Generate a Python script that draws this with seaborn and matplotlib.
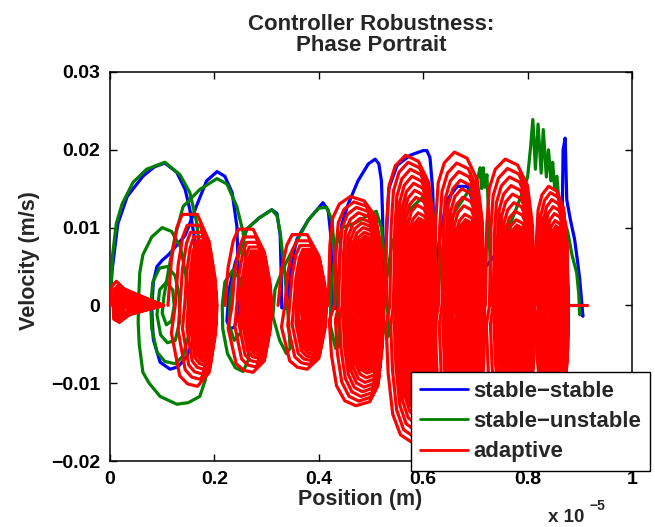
import numpy as np
import pandas as pd
import matplotlib
matplotlib.use("Agg")
import matplotlib.pyplot as plt
from matplotlib.lines import Line2D
import seaborn as sns

# position in units of 1e-5 m, velocity in m/s
blue_path = [
    (0.000, 0.0), (0.004, 0.0045), (0.015, 0.0105), (0.033, 0.0140), (0.063, 0.0166),
    (0.085, 0.0178), (0.105, 0.0183), (0.128, 0.0171), (0.144, 0.0149), (0.153, 0.0123),
    (0.161, 0.0090), (0.165, 0.0050), (0.166, 0.0000), (0.162, -0.0040), (0.147, -0.0066),
    (0.130, -0.0079), (0.115, -0.0082), (0.096, -0.0073), (0.083, -0.0044), (0.080, -0.0005),
    (0.083, 0.0030), (0.090, 0.0050), (0.100, 0.0058), (0.112, 0.0065), (0.125, 0.0075),
    (0.144, 0.0090), (0.167, 0.0130), (0.185, 0.0160), (0.205, 0.0172), (0.220, 0.0166),
    (0.234, 0.0145), (0.243, 0.0102), (0.246, 0.0040), (0.245, -0.0015), (0.238, -0.0028),
    (0.230, -0.0030), (0.224, -0.0020), (0.228, 0.0020), (0.240, 0.0055), (0.262, 0.0098),
    (0.285, 0.0112), (0.310, 0.0123), (0.320, 0.0118), (0.326, 0.0090), (0.328, 0.0040),
    (0.329, -0.0003), (0.336, -0.0004), (0.340, 0.0010), (0.348, 0.0055), (0.358, 0.0085),
    (0.380, 0.0110), (0.408, 0.0132), (0.418, 0.0122), (0.423, 0.0090), (0.425, 0.0040),
    (0.426, -0.0004), (0.433, -0.0004), (0.437, 0.0030), (0.444, 0.0104), (0.455, 0.0128),
    (0.475, 0.0160), (0.495, 0.0182), (0.508, 0.0188), (0.515, 0.0182), (0.520, 0.0160),
    (0.522, 0.0120), (0.524, 0.0050), (0.526, 0.0000), (0.529, 0.0080), (0.534, 0.0150),
    (0.550, 0.0180), (0.575, 0.0193), (0.600, 0.0199), (0.607, 0.0199), (0.613, 0.0190),
    (0.618, 0.0150), (0.621, 0.0090), (0.623, 0.0030), (0.624, 0.0000), (0.630, 0.0080),
    (0.645, 0.0135), (0.665, 0.0153), (0.685, 0.0153), (0.697, 0.0130), (0.702, 0.0080),
    (0.704, 0.0020), (0.705, 0.0000), (0.720, 0.0050), (0.750, 0.0075), (0.780, 0.0076),
    (0.790, 0.0055), (0.795, 0.0020), (0.800, 0.0000), (0.815, 0.0030), (0.840, 0.0040),
    (0.860, 0.0030), (0.866, 0.0100), (0.868, 0.0200), (0.872, 0.0215), (0.875, 0.0136),
    (0.882, 0.0110), (0.890, 0.0085), (0.896, 0.0055), (0.900, 0.0033), (0.906, -0.0014),
    (0.903, -0.0010), (0.900, 0.0000),
]

green_path = [
    (0.000, 0.0), (0.005, 0.0065), (0.012, 0.0105), (0.023, 0.0130), (0.044, 0.0158),
    (0.070, 0.0175), (0.105, 0.0184), (0.134, 0.0168), (0.153, 0.0145), (0.166, 0.0107),
    (0.174, 0.0060), (0.180, 0.0000), (0.184, -0.0050), (0.183, -0.0095), (0.172, -0.0117),
    (0.150, -0.0125), (0.128, -0.0127), (0.096, -0.0117), (0.075, -0.0100), (0.063, -0.0086),
    (0.056, -0.0050), (0.054, -0.0022), (0.055, 0.0010), (0.057, 0.0042), (0.063, 0.0065),
    (0.080, 0.0088), (0.100, 0.0100), (0.118, 0.0095), (0.135, 0.0075), (0.145, 0.0040),
    (0.150, 0.0000), (0.150, -0.0040), (0.140, -0.0065), (0.125, -0.0075), (0.105, -0.0072),
    (0.090, -0.0060), (0.080, -0.0030), (0.078, 0.0000), (0.082, 0.0030), (0.095, 0.0048),
    (0.110, 0.0050), (0.125, 0.0038), (0.133, 0.0010), (0.134, -0.0020), (0.125, -0.0045),
    (0.110, -0.0048), (0.097, -0.0038), (0.090, -0.0012), (0.095, 0.0020), (0.108, 0.0030),
    (0.120, 0.0020), (0.123, 0.0000), (0.118, -0.0020), (0.108, -0.0025), (0.100, -0.0010),
    (0.103, 0.0010), (0.112, 0.0045), (0.125, 0.0090), (0.140, 0.0127), (0.172, 0.0149),
    (0.205, 0.0163), (0.224, 0.0156), (0.243, 0.0127), (0.255, 0.0094), (0.262, 0.0040),
    (0.266, -0.0020), (0.265, -0.0070), (0.255, -0.0085), (0.240, -0.0080), (0.225, -0.0062),
    (0.216, -0.0030), (0.215, 0.0000), (0.220, 0.0030), (0.235, 0.0045), (0.248, 0.0035),
    (0.253, 0.0000), (0.250, -0.0035), (0.238, -0.0045), (0.228, -0.0025), (0.230, 0.0010),
    (0.240, 0.0050), (0.262, 0.0098), (0.285, 0.0112), (0.310, 0.0123), (0.320, 0.0115),
    (0.326, 0.0094), (0.335, 0.0040), (0.342, -0.0020), (0.345, -0.0055), (0.338, -0.0062),
    (0.325, -0.0045), (0.312, -0.0014), (0.316, 0.0020), (0.330, 0.0045), (0.345, 0.0065),
    (0.360, 0.0085), (0.380, 0.0110), (0.400, 0.0125), (0.415, 0.0126), (0.425, 0.0110),
    (0.430, 0.0072), (0.436, 0.0010), (0.440, -0.0053), (0.432, -0.0055), (0.422, -0.0025),
    (0.424, 0.0030), (0.435, 0.0080), (0.445, 0.0100), (0.470, 0.0106), (0.495, 0.0116),
    (0.510, 0.0121), (0.520, 0.0100), (0.527, 0.0050), (0.532, -0.0010), (0.535, -0.0038),
    (0.530, -0.0042), (0.524, -0.0020), (0.527, 0.0020), (0.540, 0.0080), (0.570, 0.0120),
    (0.600, 0.0140), (0.613, 0.0145), (0.620, 0.0115), (0.625, 0.0050), (0.627, 0.0000),
    (0.635, 0.0070), (0.660, 0.0120), (0.690, 0.0150), (0.705, 0.0165), (0.709, 0.0177),
    (0.712, 0.0150), (0.715, 0.0177), (0.718, 0.0152), (0.722, 0.0168), (0.725, 0.0120),
    (0.728, 0.0060), (0.730, 0.0000), (0.740, 0.0060), (0.770, 0.0110), (0.790, 0.0145),
    (0.800, 0.0165), (0.806, 0.0205), (0.810, 0.0239), (0.815, 0.0175), (0.820, 0.0233),
    (0.826, 0.0170), (0.830, 0.0226), (0.836, 0.0165), (0.840, 0.0200), (0.845, 0.0160),
    (0.848, 0.0184), (0.852, 0.0150), (0.856, 0.0166), (0.860, 0.0135), (0.868, 0.0115),
    (0.877, 0.0094), (0.885, 0.0065), (0.894, 0.0042), (0.898, 0.0015), (0.900, -0.0012),
    (0.899, -0.0005),
]

# adaptive run: one spiral per step, each ring given as (left, right, top, bottom)
red_a_rings = [
    (0.000, 0.102, 0.0031, -0.0022), (0.006, 0.102, 0.0027, -0.0019),
    (0.011, 0.102, 0.0024, -0.0017), (0.016, 0.102, 0.0021, -0.0015),
    (0.021, 0.102, 0.0018, -0.0013), (0.026, 0.102, 0.0015, -0.0011),
]
red_b_rings = [
    (0.111, 0.205, 0.0117, -0.0104), (0.125, 0.204, 0.0103, -0.0095),
    (0.134, 0.204, 0.0094, -0.0088), (0.143, 0.203, 0.0088, -0.0082),
    (0.150, 0.203, 0.0083, -0.0077), (0.156, 0.203, 0.0079, -0.0073),
    (0.161, 0.202, 0.0075, -0.0069),
]
red_c_rings = [
    (0.220, 0.310, 0.0098, -0.0086), (0.234, 0.309, 0.0088, -0.0079),
    (0.243, 0.308, 0.0081, -0.0073), (0.250, 0.308, 0.0075, -0.0068),
    (0.256, 0.307, 0.0070, -0.0064), (0.261, 0.307, 0.0066, -0.0060),
]
red_d_rings = [
    (0.322, 0.415, 0.0091, -0.0082), (0.335, 0.414, 0.0083, -0.0076),
    (0.344, 0.413, 0.0077, -0.0071), (0.352, 0.413, 0.0072, -0.0067),
    (0.358, 0.412, 0.0068, -0.0063), (0.363, 0.412, 0.0064, -0.0059),
]
red_e_rings = [
    (0.418, 0.524, 0.0140, -0.0129), (0.430, 0.523, 0.0133, -0.0123),
    (0.438, 0.523, 0.0126, -0.0117), (0.445, 0.522, 0.0119, -0.0111),
    (0.451, 0.522, 0.0112, -0.0105), (0.456, 0.521, 0.0106, -0.0099),
    (0.461, 0.521, 0.0100, -0.0093), (0.465, 0.520, 0.0094, -0.0087),
]
red_f_rings = [
    (0.527, 0.625, 0.0193, -0.0175), (0.536, 0.624, 0.0184, -0.0168),
    (0.543, 0.624, 0.0175, -0.0160), (0.549, 0.623, 0.0166, -0.0152),
    (0.554, 0.623, 0.0157, -0.0144), (0.558, 0.622, 0.0148, -0.0136),
    (0.562, 0.622, 0.0139, -0.0128), (0.566, 0.621, 0.0129, -0.0119),
    (0.570, 0.621, 0.0119, -0.0110),
]
red_g_rings = [
    (0.621, 0.718, 0.0197, -0.0180), (0.629, 0.717, 0.0183, -0.0170),
    (0.636, 0.716, 0.0172, -0.0161), (0.642, 0.715, 0.0161, -0.0152),
    (0.647, 0.714, 0.0150, -0.0142), (0.651, 0.713, 0.0139, -0.0132),
    (0.655, 0.712, 0.0128, -0.0122), (0.659, 0.711, 0.0117, -0.0111),
]
red_h_rings = [
    (0.719, 0.814, 0.0188, -0.0170), (0.727, 0.813, 0.0176, -0.0161),
    (0.734, 0.812, 0.0165, -0.0152), (0.740, 0.811, 0.0154, -0.0143),
    (0.745, 0.810, 0.0143, -0.0134), (0.750, 0.809, 0.0132, -0.0124),
    (0.754, 0.809, 0.0121, -0.0114), (0.758, 0.808, 0.0110, -0.0104),
]
red_i_rings = [
    (0.815, 0.878, 0.0153, -0.0140), (0.821, 0.878, 0.0145, -0.0133),
    (0.826, 0.877, 0.0136, -0.0126), (0.830, 0.877, 0.0127, -0.0118),
    (0.834, 0.877, 0.0118, -0.0110), (0.837, 0.876, 0.0109, -0.0102),
]
red_tail = [(0.860, 0.0), (0.913, 0.0)]

# the tightly wound middle of each spiral shows as solid red
red_cores = [
    ("a", 0.030, 0.102, 0.0013, -0.0010),
    ("b", 0.164, 0.202, 0.0072, -0.0066),
    ("c", 0.264, 0.306, 0.0063, -0.0057),
    ("d", 0.366, 0.411, 0.0061, -0.0056),
    ("e", 0.468, 0.519, 0.0089, -0.0083),
    ("f", 0.573, 0.620, 0.0112, -0.0104),
    ("g", 0.662, 0.710, 0.0110, -0.0104),
    ("h", 0.761, 0.807, 0.0103, -0.0097),
    ("i", 0.840, 0.876, 0.0102, -0.0095),
]

x_ticks = [0, 0.2, 0.4, 0.6, 0.8, 1.0]
x_tick_labels = ["0", "0.2", "0.4", "0.6", "0.8", "1"]
y_ticks = [-0.02, -0.01, 0, 0.01, 0.02, 0.03]
y_tick_labels = ["\u22120.02", "\u22120.01", "0", "0.01", "0.02", "0.03"]
series_labels = ["stable\u2212stable", "stable\u2212unstable", "adaptive"]
series_colors = ["#0000ff", "#008000", "#ff0000"]

# outline of one loop, as fractions of the ring width / height
FAN_U = [0.0, 0.04, 0.12, 0.25, 1.0, 0.30, 0.18, 0.07]
FAN_S = [0.0, 0.80, 1.00, 0.70, 0.0, -0.60, -1.00, -0.80]
RING_U = [0.0, 0.07, 0.18, 0.29, 0.60, 0.84, 0.96, 1.0, 0.97, 0.84, 0.60, 0.40, 0.24, 0.07]
RING_S = [0.0, 0.50, 0.85, 1.0, 1.0, 0.70, 0.30, 0.0, -0.35, -0.83, -1.0, -0.97, -0.87, -0.34]
ARCH_U = [0.0, 0.03, 0.08, 0.20, 0.40, 0.65, 0.85, 0.95, 1.0, 0.98, 0.90, 0.75, 0.50, 0.30, 0.15, 0.06, 0.02]
ARCH_S = [0.0, 0.55, 0.80, 0.93, 1.0, 0.96, 0.82, 0.55, 0.0, -0.40, -0.80, -0.96, -1.0, -0.95, -0.80, -0.50, -0.15]


def outline(left, right, top, bottom, u_shape, s_shape):
    xs = [left + u * (right - left) for u in u_shape]
    vs = [s * top if s > 0 else -s * bottom for s in s_shape]
    return xs, vs


def spiral(rings, u_shape, s_shape, unit):
    rows = []
    for ring in rings:
        xs, vs = outline(*ring, u_shape, s_shape)
        rows += [(x, v, unit) for x, v in zip(xs, vs)]
    return rows


def shape_for(name):
    if name == "a":
        return FAN_U, FAN_S
    if name in "bcd":
        return RING_U, RING_S
    return ARCH_U, ARCH_S


red_rows = []
for name, rings in [("a", red_a_rings), ("b", red_b_rings), ("c", red_c_rings),
                    ("d", red_d_rings), ("e", red_e_rings), ("f", red_f_rings),
                    ("g", red_g_rings), ("h", red_h_rings), ("i", red_i_rings)]:
    red_rows += spiral(rings, *shape_for(name), name)
red_rows += [(p, v, "tail") for p, v in red_tail]

blue_df = pd.DataFrame(blue_path, columns=["pos", "vel"])
green_df = pd.DataFrame(green_path, columns=["pos", "vel"])
red_df = pd.DataFrame(red_rows, columns=["pos", "vel", "unit"])

sns.set_style("ticks")
plt.rcParams["font.family"] = ["Liberation Sans", "DejaVu Sans"]
plt.rcParams["font.weight"] = "bold"
plt.rcParams["axes.labelweight"] = "bold"
plt.rcParams["axes.titleweight"] = "bold"

fig = plt.figure(figsize=(6.55, 5.27), dpi=100)
ax = fig.add_axes([110 / 655, 66 / 527, 522 / 655, 389 / 527])

lw = 2.3
sns.lineplot(data=blue_df, x="pos", y="vel", sort=False, estimator=None,
             color=series_colors[0], lw=lw, ax=ax, zorder=2)
sns.lineplot(data=green_df, x="pos", y="vel", sort=False, estimator=None,
             color=series_colors[1], lw=lw, ax=ax, zorder=3)
sns.lineplot(data=red_df, x="pos", y="vel", units="unit", sort=False,
             estimator=None, color=series_colors[2], lw=lw, ax=ax, zorder=4,
             legend=False)
for name, left, right, top, bottom in red_cores:
    xs, vs = outline(left, right, top, bottom, *shape_for(name))
    ax.fill(xs, vs, color=series_colors[2], lw=lw, zorder=4)

ax.set_xlim(0, 1)
ax.set_ylim(-0.02, 0.03)
ax.set_xticks(x_ticks, labels=x_tick_labels)
ax.set_yticks(y_ticks, labels=y_tick_labels)
ax.tick_params(direction="in", length=5, width=1, top=True, right=True,
               labelsize=14, pad=7, colors="black")
for side in ["left", "right", "top", "bottom"]:
    ax.spines[side].set_visible(True)
    ax.spines[side].set_linewidth(1.1)
    ax.spines[side].set_color("black")

ax.set_xlabel("Position (m)", fontsize=15.5)
ax.set_ylabel("Velocity (m/s)", fontsize=15.5)
ax.xaxis.set_label_coords(0.479, -0.073)
ax.yaxis.set_label_coords(-0.134, 0.514)
ax.set_title("Controller Robustness:\nPhase Portrait", fontsize=16,
             linespacing=1.0, pad=15)

fig.text(548 / 655, 1 - 522 / 527, "x 10", fontsize=13.5, ha="left", va="baseline")
fig.text(589 / 655, 1 - 510 / 527, "\u22125", fontsize=10, ha="left", va="baseline")

handles = [Line2D([0], [0], color=c, lw=2) for c in series_colors]
leg = ax.legend(handles, series_labels, loc="upper left",
                bbox_to_anchor=(411 / 655, 1 - 372 / 527),
                bbox_transform=fig.transFigure, frameon=True, fancybox=False,
                framealpha=1, edgecolor="black", fontsize=15.9, handlelength=2.2,
                handletextpad=0.22, labelspacing=0.42, borderpad=0.4,
                borderaxespad=0)
leg.get_frame().set_linewidth(1.0)
leg.set_zorder(10)

fig.savefig("out.png", dpi=100, facecolor="white")
